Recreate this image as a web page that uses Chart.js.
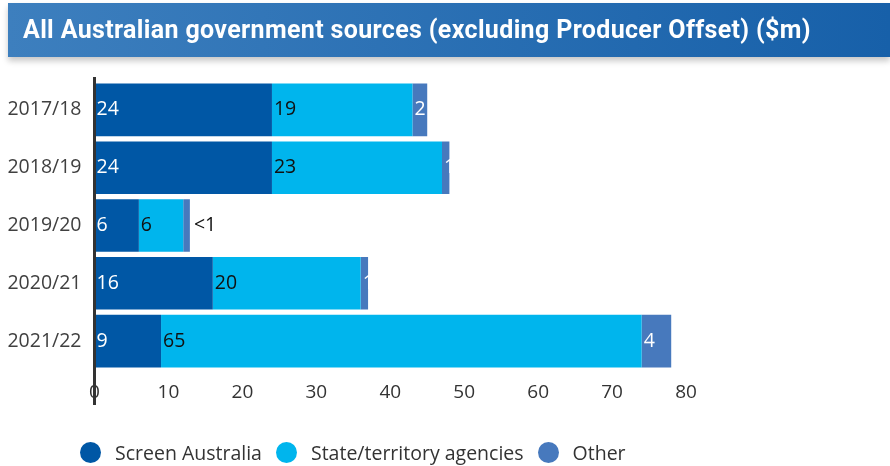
<!DOCTYPE html>
<html>
<head>
<meta charset="utf-8">
<script src="https://cdn.jsdelivr.net/npm/chart.js@4/dist/chart.umd.min.js"></script>
<style>
  html, body { margin: 0; padding: 0; background: #fff; }
  #wrap { position: relative; width: 890px; height: 466px; overflow: hidden; }
  #chart { position: absolute; left: 0; top: 0; }
  #banner {
    position: absolute; left: 8px; top: 3px; width: 882px; height: 54px;
    background: linear-gradient(to right, #3d7fbe, #1760a9);
    box-shadow: 0 4px 6px rgba(0, 0, 0, 0.22);
    color: #fff; font-family: Roboto, sans-serif; font-weight: bold;
    font-size: 25px; letter-spacing: 0.35px; line-height: 54px;
    padding-left: 15px; box-sizing: border-box;
  }
  #legend {
    position: absolute; left: 80px; top: 439px; display: flex; align-items: center;
    font-family: "Open Sans", sans-serif; font-size: 19.5px; color: #333;
  }
  .item { display: flex; align-items: center; margin-right: 14px; }
  .dot { width: 21px; height: 21px; border-radius: 50%; margin-right: 14px; }
</style>
</head>
<body>
<div id="wrap">
  <canvas id="chart" width="890" height="466"></canvas>
  <div id="banner">All Australian government sources (excluding Producer Offset) ($m)</div>
  <div id="legend"></div>
</div>
<script>
const years = ["2017/18", "2018/19", "2019/20", "2020/21", "2021/22"];
const screenAustralia = [24, 24, 6, 16, 9];
const stateAgencies = [19, 23, 6, 20, 65];
const other = [2, 1, 0.9, 1, 4];
// text printed on each segment
const screenLabels = ["24", "24", "6", "16", "9"];
const stateLabels = ["19", "23", "6", "20", "65"];
const otherLabels = ["2", "1", "<1", "1", "4"];
const xTicks = [0, 10, 20, 30, 40, 50, 60, 70, 80];

const colors = {
  screen: "#0057a5",
  state: "#00b5ed",
  other: "#4779bd",
};

const FONT = "'Open Sans', sans-serif";

// draws the value text at the left edge of each segment
const segmentLabels = {
  id: "segmentLabels",
  afterDatasetsDraw(chart) {
    const ctx = chart.ctx;
    ctx.save();
    ctx.font = "19.5px " + FONT;
    ctx.textBaseline = "middle";
    ctx.textAlign = "left";
    chart.data.datasets.forEach((ds, i) => {
      const meta = chart.getDatasetMeta(i);
      meta.data.forEach((bar, j) => {
        const text = ds.valueLabels[j];
        if (text.startsWith("<")) {
          ctx.fillStyle = "#111";
          ctx.fillText(text, bar.x + 4, bar.y);
        } else {
          ctx.fillStyle = ds.labelColor;
          ctx.fillText(text, bar.base + 2, bar.y);
        }
      });
    });
    ctx.restore();
  },
};

// dark vertical axis line through zero
const zeroLine = {
  id: "zeroLine",
  afterDatasetsDraw(chart) {
    const ctx = chart.ctx;
    const x = chart.scales.x.getPixelForValue(0);
    ctx.save();
    ctx.strokeStyle = "#333";
    ctx.lineWidth = 3;
    ctx.beginPath();
    ctx.moveTo(x, chart.chartArea.top - 4);
    ctx.lineTo(x, chart.chartArea.bottom + 35);
    ctx.stroke();
    ctx.restore();
  },
};

const chart = new Chart(document.getElementById("chart"), {
  type: "bar",
  data: {
    labels: years,
    datasets: [
      {
        label: "Screen Australia",
        data: screenAustralia,
        backgroundColor: colors.screen,
        valueLabels: screenLabels,
        labelColor: "#fff",
      },
      {
        label: "State/territory agencies",
        data: stateAgencies,
        backgroundColor: colors.state,
        valueLabels: stateLabels,
        labelColor: "#111",
      },
      {
        label: "Other",
        data: other,
        backgroundColor: colors.other,
        valueLabels: otherLabels,
        labelColor: "#fff",
      },
    ],
  },
  options: {
    indexAxis: "y",
    responsive: false,
    animation: false,
    barPercentage: 0.91,
    categoryPercentage: 1,
    layout: {
      padding: { left: 0, right: 204, top: 81, bottom: 50 },
    },
    plugins: {
      legend: { display: false },
      tooltip: { enabled: false },
    },
    scales: {
      x: {
        stacked: true,
        min: 0,
        max: 80,
        grid: { display: false },
        border: { display: false },
        afterBuildTicks(scale) {
          scale.ticks = xTicks.map((v) => ({ value: v }));
        },
        afterFit(scale) {
          scale.height = 46;
        },
        ticks: {
          color: "#333",
          padding: 3,
          font: { family: FONT, size: 19 },
        },
      },
      y: {
        stacked: true,
        grid: { display: false, drawTicks: false },
        border: { display: false },
        afterFit(scale) {
          scale.width = 94.5;
        },
        ticks: {
          color: "#404040",
          padding: 13,
          font: { family: FONT, size: 19.5 },
        },
      },
    },
  },
  plugins: [segmentLabels, zeroLine],
});

// legend built from the datasets
const legend = document.getElementById("legend");
chart.data.datasets.forEach((ds) => {
  const item = document.createElement("div");
  item.className = "item";
  const dot = document.createElement("span");
  dot.className = "dot";
  dot.style.background = ds.backgroundColor;
  const label = document.createElement("span");
  label.textContent = ds.label;
  item.appendChild(dot);
  item.appendChild(label);
  legend.appendChild(item);
});
</script>
</body>
</html>
